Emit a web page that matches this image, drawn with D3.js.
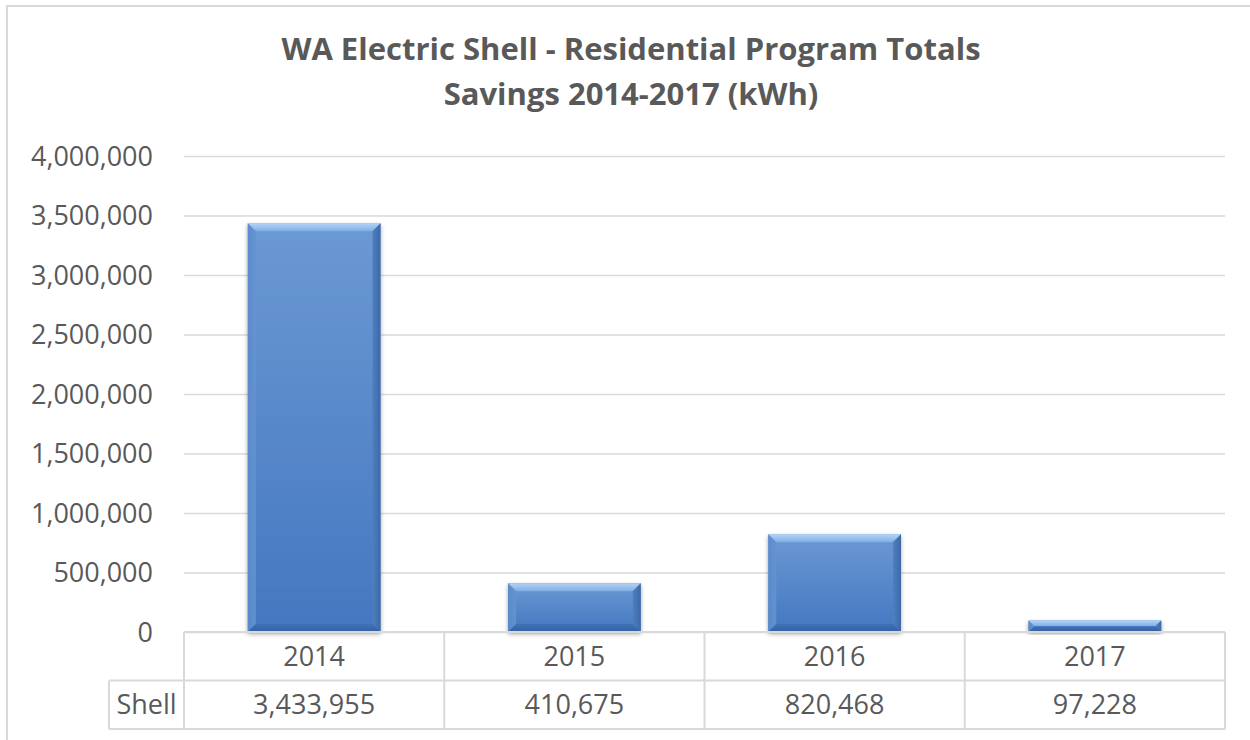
<!DOCTYPE html>
<html>
<head>
<meta charset="utf-8">
<script src="https://cdn.jsdelivr.net/npm/d3@7"></script>
<style>
  html, body { margin: 0; padding: 0; background: #fff; }
  svg { display: block; }
</style>
</head>
<body>
<svg id="chart" width="1250" height="740"></svg>
<script>
// ---- data ----
const titleLines = ["WA Electric Shell - Residential Program Totals", "Savings 2014-2017 (kWh)"];
const years = ["2014", "2015", "2016", "2017"];
const shellValues = [3433955, 410675, 820468, 97228];
const seriesName = "Shell";
const yTicks = [0, 500000, 1000000, 1500000, 2000000, 2500000, 3000000, 3500000, 4000000];

// ---- layout ----
const W = 1250, H = 740;
const plot = { left: 184, right: 1225, top: 156, bottom: 632 };
const rowH = 48.5;
const gridColor = "#d9d9d9";
const textColor = "#595959";
const tickFont = "'Open Sans', sans-serif";

const svg = d3.select("#chart");

// defs: gradient + shadow
const defs = svg.append("defs");
const g1 = defs.append("linearGradient").attr("id", "barFill").attr("x1", 0).attr("y1", 0).attr("x2", 0).attr("y2", 1);
g1.append("stop").attr("offset", "0%").attr("stop-color", "#6c99d3");
g1.append("stop").attr("offset", "100%").attr("stop-color", "#4377c0");
const gTop = defs.append("linearGradient").attr("id", "bevelTop").attr("x1", 0).attr("y1", 0).attr("x2", 0).attr("y2", 1);
gTop.append("stop").attr("offset", "0%").attr("stop-color", "#b4d3f5");
gTop.append("stop").attr("offset", "100%").attr("stop-color", "#7eaee6");
const gL = defs.append("linearGradient").attr("id", "bevelLeft").attr("x1", 0).attr("y1", 0).attr("x2", 1).attr("y2", 0);
gL.append("stop").attr("offset", "0%").attr("stop-color", "#5a8acb");
gL.append("stop").attr("offset", "100%").attr("stop-color", "#6594d0");
const gR = defs.append("linearGradient").attr("id", "bevelRight").attr("x1", 0).attr("y1", 0).attr("x2", 1).attr("y2", 0);
gR.append("stop").attr("offset", "0%").attr("stop-color", "#4f7fbf");
gR.append("stop").attr("offset", "100%").attr("stop-color", "#3d68a6");
const gB = defs.append("linearGradient").attr("id", "bevelBottom").attr("x1", 0).attr("y1", 0).attr("x2", 0).attr("y2", 1);
gB.append("stop").attr("offset", "0%").attr("stop-color", "#3f72b8");
gB.append("stop").attr("offset", "100%").attr("stop-color", "#33609f");
const f = defs.append("filter").attr("id", "shadow").attr("x", "-10%").attr("y", "-10%").attr("width", "120%").attr("height", "130%");
f.append("feDropShadow").attr("dx", 0).attr("dy", 2).attr("stdDeviation", 2).attr("flood-color", "#000").attr("flood-opacity", 0.35);

// outer chart border
svg.append("path")
  .attr("d", `M7,${H} L7,6 L${W},6`)
  .attr("fill", "none").attr("stroke", gridColor).attr("stroke-width", 2);

// title (font size fitted so the first line spans about the same width as the reference)
const title = svg.append("text")
  .attr("x", 631).attr("text-anchor", "middle")
  .attr("font-family", "'Open Sans', sans-serif")
  .attr("font-weight", "bold").attr("font-size", 28)
  .attr("fill", textColor);
title.selectAll("tspan").data(titleLines).join("tspan")
  .attr("x", 631).attr("y", (d, i) => 60 + i * 45).text(d => d);
const firstLen = title.select("tspan").node().getComputedTextLength();
if (firstLen > 0) title.attr("font-size", Math.min(31, 28 * 712 / firstLen));

// scales
const x = d3.scaleBand().domain(years).range([plot.left, plot.right]).paddingInner(0.49).paddingOuter(0.245);
const xCell = d3.scaleBand().domain(years).range([plot.left, plot.right]).padding(0);
const y = d3.scaleLinear().domain([0, 4000000]).range([plot.bottom, plot.top]);

// y axis with gridlines
const yAxis = svg.append("g")
  .attr("transform", `translate(${plot.left},0)`)
  .call(d3.axisLeft(y).tickValues(yTicks).tickFormat(d3.format(",")).tickSize(-(plot.right - plot.left)).tickPadding(31));
yAxis.select(".domain").remove();
yAxis.selectAll(".tick line").attr("stroke", gridColor).attr("stroke-width", 1.5);
yAxis.selectAll(".tick text")
  .attr("font-family", tickFont).attr("font-size", 27).attr("fill", textColor).attr("dy", "0.35em");

// bars with bevel
const bev = 8;
const bars = svg.append("g").selectAll("g").data(years.map((yr, i) => ({ yr, v: shellValues[i] }))).join("g")
  .attr("filter", "url(#shadow)");
bars.each(function (d) {
  const gEl = d3.select(this);
  const x0 = x(d.yr), x1 = x0 + x.bandwidth();
  const y0 = y(d.v), y1 = y(0);
  const b = Math.min(bev, (y1 - y0) / 2);
  gEl.append("rect").attr("x", x0).attr("y", y0).attr("width", x1 - x0).attr("height", y1 - y0).attr("fill", "url(#barFill)");
  gEl.append("path").attr("d", `M${x0},${y0} L${x1},${y0} L${x1 - b},${y0 + b} L${x0 + b},${y0 + b} Z`).attr("fill", "url(#bevelTop)");
  gEl.append("path").attr("d", `M${x0},${y0} L${x0 + b},${y0 + b} L${x0 + b},${y1 - b} L${x0},${y1} Z`).attr("fill", "url(#bevelLeft)").attr("opacity", 0.9);
  gEl.append("path").attr("d", `M${x1},${y0} L${x1},${y1} L${x1 - b},${y1 - b} L${x1 - b},${y0 + b} Z`).attr("fill", "url(#bevelRight)");
  gEl.append("path").attr("d", `M${x0},${y1} L${x0 + b},${y1 - b} L${x1 - b},${y1 - b} L${x1},${y1} Z`).attr("fill", "url(#bevelBottom)");
});

// data table
const table = svg.append("g");
const r0 = plot.bottom, r1 = plot.bottom + rowH, r2 = plot.bottom + 2 * rowH;
const labelLeft = 109;
const lineStyle = sel => sel.attr("stroke", gridColor).attr("stroke-width", 2).attr("fill", "none");
table.append("line").attr("x1", plot.left).attr("x2", plot.right).attr("y1", r0).attr("y2", r0).call(lineStyle);
table.append("line").attr("x1", labelLeft).attr("x2", plot.right).attr("y1", r1).attr("y2", r1).call(lineStyle);
table.append("line").attr("x1", labelLeft).attr("x2", plot.right).attr("y1", r2).attr("y2", r2).call(lineStyle);
table.append("line").attr("x1", labelLeft).attr("x2", labelLeft).attr("y1", r1).attr("y2", r2).call(lineStyle);
const vxs = years.map(yr => xCell(yr)).concat([plot.right]);
table.selectAll(".vl").data(vxs).join("line").attr("class", "vl")
  .attr("x1", d => d).attr("x2", d => d).attr("y1", r0).attr("y2", r2).call(lineStyle);

table.selectAll(".yr").data(years).join("text").attr("class", "yr")
  .attr("x", d => xCell(d) + xCell.bandwidth() / 2).attr("y", (r0 + r1) / 2).attr("dy", "0.35em")
  .attr("text-anchor", "middle").attr("font-family", tickFont).attr("font-size", 27).attr("fill", textColor)
  .text(d => d);
table.selectAll(".val").data(years.map((yr, i) => ({ yr, v: shellValues[i] }))).join("text").attr("class", "val")
  .attr("x", d => xCell(d.yr) + xCell.bandwidth() / 2).attr("y", (r1 + r2) / 2).attr("dy", "0.35em")
  .attr("text-anchor", "middle").attr("font-family", tickFont).attr("font-size", 27).attr("fill", textColor)
  .text(d => d3.format(",")(d.v));
table.append("text").attr("x", (labelLeft + plot.left) / 2).attr("y", (r1 + r2) / 2).attr("dy", "0.35em")
  .attr("text-anchor", "middle").attr("font-family", tickFont).attr("font-size", 27).attr("fill", textColor)
  .text(seriesName);
</script>
</body>
</html>
